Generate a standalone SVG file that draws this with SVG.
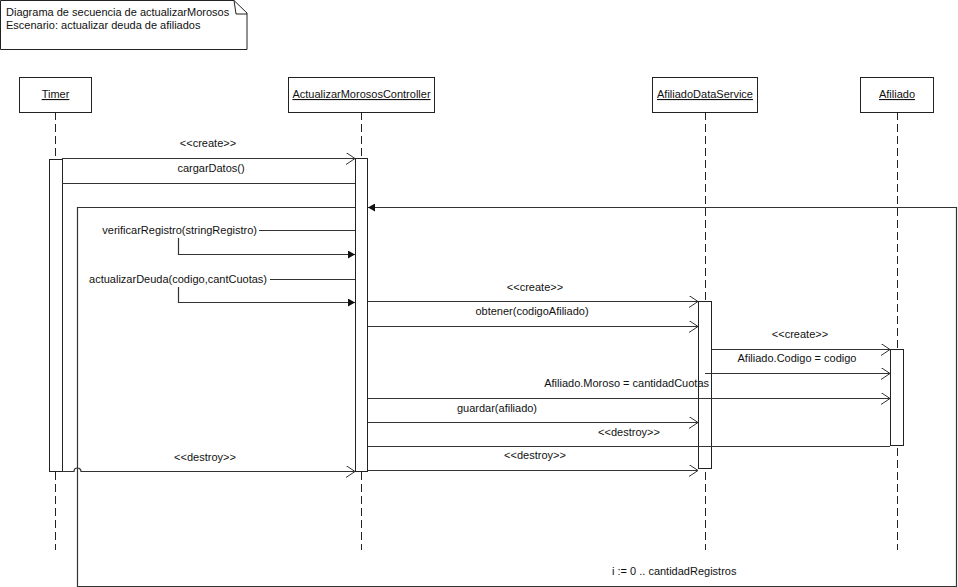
<svg xmlns="http://www.w3.org/2000/svg" width="958" height="587" viewBox="0 0 958 587">
<style>
text{font-family:"Liberation Sans",Arial,sans-serif;font-size:11px;fill:#111}
.mid{text-anchor:middle}
.end{text-anchor:end}
.head rect{fill:#fff;stroke:#222;stroke-width:1}
.life{stroke:#222;stroke-width:1;stroke-dasharray:8,4;fill:none}
.act{fill:#fff;stroke:#222;stroke-width:1}
.msg{stroke:#333;stroke-width:1.2;fill:none}
.open{stroke:#333;stroke-width:1;fill:none}
.fill{fill:#111;stroke:none}
</style>
<defs>
<marker id="openArrow" markerWidth="10" markerHeight="12" refX="9" refY="6" orient="auto" markerUnits="userSpaceOnUse">
<path d="M0,0 L9,6 L0,12" class="open"/>
</marker>
<marker id="fillArrow" markerWidth="8" markerHeight="8" refX="7" refY="4" orient="auto" markerUnits="userSpaceOnUse">
<path d="M0,0 L7,4 L0,8 Z" class="fill"/>
</marker>
</defs>
<rect width="958" height="587" fill="#fff"/>

<g id="note">
<path d="M0.5,0.5 H234 L247,13 V49.5 H0.5 Z" fill="#fff" stroke="#222"/>
<path d="M234,0.5 L236,14 H247" fill="none" stroke="#222"/>
<text x="6" y="16">Diagrama de secuencia de actualizarMorosos</text>
<text x="6" y="29">Escenario: actualizar deuda de afiliados</text>
</g>

<g id="lifelines">
<line class="life" x1="55.5" y1="112" x2="55.5" y2="550"/>
<line class="life" x1="361.5" y1="112" x2="361.5" y2="550"/>
<line class="life" x1="705.5" y1="112" x2="705.5" y2="550"/>
<line class="life" x1="897.5" y1="112" x2="897.5" y2="550"/>
</g>

<g id="timer" class="head">
<rect x="19.5" y="77.5" width="72" height="35"/>
<text x="55.5" y="98" class="mid" text-decoration="underline">Timer</text>
</g>
<g id="controller" class="head">
<rect x="288.5" y="77.5" width="146" height="35"/>
<text x="361.5" y="98" class="mid" text-decoration="underline">ActualizarMorososController</text>
</g>
<g id="dataservice" class="head">
<rect x="652.5" y="77.5" width="105" height="35"/>
<text x="705" y="98" class="mid" text-decoration="underline">AfiliadoDataService</text>
</g>
<g id="afiliado" class="head">
<rect x="860.5" y="77.5" width="73" height="35"/>
<text x="897" y="98" class="mid" text-decoration="underline">Afiliado</text>
</g>

<g id="activations">
<rect class="act" x="49.5" y="159.5" width="13" height="312"/>
<rect class="act" x="355.5" y="158.5" width="12" height="313"/>
<rect class="act" x="698.5" y="301.5" width="13" height="167"/>
<rect class="act" x="890.5" y="349.5" width="13" height="96"/>
</g>

<g id="connectors">
<!-- loop -->
<path class="msg" d="M355,207.5 H77.5 V586.5 H956.5 V207.5 H368" marker-end="url(#fillArrow)"/>
<text x="612" y="575">i := 0 .. cantidadRegistros</text>

<!-- create controller -->
<line class="msg" x1="62" y1="158.5" x2="355" y2="158.5" marker-end="url(#openArrow)"/>
<text x="208" y="147" class="mid">&lt;&lt;create&gt;&gt;</text>

<!-- cargarDatos -->
<line class="msg" x1="62" y1="183.5" x2="355" y2="183.5"/>
<text x="211" y="172" class="mid">cargarDatos()</text>

<!-- verificarRegistro -->
<line class="msg" x1="259" y1="230.5" x2="355" y2="230.5"/>
<text x="257" y="234" class="end">verificarRegistro(stringRegistro)</text>
<path class="msg" d="M178.5,238 V254.5 H355" marker-end="url(#fillArrow)"/>

<!-- actualizarDeuda -->
<line class="msg" x1="270" y1="279.5" x2="355" y2="279.5"/>
<text x="267" y="283" class="end">actualizarDeuda(codigo,cantCuotas)</text>
<path class="msg" d="M178.5,287 V302.5 H355" marker-end="url(#fillArrow)"/>

<!-- create dataservice -->
<line class="msg" x1="368" y1="301.5" x2="698" y2="301.5" marker-end="url(#openArrow)"/>
<text x="535" y="291" class="mid">&lt;&lt;create&gt;&gt;</text>

<!-- obtener -->
<line class="msg" x1="368" y1="326.5" x2="698" y2="326.5" marker-end="url(#openArrow)"/>
<text x="532" y="315" class="mid">obtener(codigoAfiliado)</text>

<!-- create afiliado -->
<line class="msg" x1="712" y1="349.5" x2="890" y2="349.5" marker-end="url(#openArrow)"/>
<text x="800" y="338" class="mid">&lt;&lt;create&gt;&gt;</text>

<!-- Afiliado.Codigo -->
<line class="msg" x1="705" y1="373.5" x2="890" y2="373.5" marker-end="url(#openArrow)"/>
<text x="797" y="362" class="mid">Afiliado.Codigo = codigo</text>

<!-- Afiliado.Moroso -->
<line class="msg" x1="368" y1="398.5" x2="890" y2="398.5" marker-end="url(#openArrow)"/>
<text x="709" y="387" class="end">Afiliado.Moroso = cantidadCuotas</text>

<!-- guardar -->
<line class="msg" x1="368" y1="422.5" x2="698" y2="422.5" marker-end="url(#openArrow)"/>
<text x="497" y="412" class="mid">guardar(afiliado)</text>

<!-- destroy afiliado -->
<line class="msg" x1="368" y1="446.5" x2="890" y2="446.5"/>
<text x="629" y="436" class="mid">&lt;&lt;destroy&gt;&gt;</text>

<!-- destroy dataservice -->
<line class="msg" x1="368" y1="470.5" x2="698" y2="470.5" marker-end="url(#openArrow)"/>
<text x="535" y="459" class="mid">&lt;&lt;destroy&gt;&gt;</text>

<!-- destroy controller -->
<path class="msg" d="M62,471.5 H74 A3.5,3.5 0 0 1 81,471.5 H355" marker-end="url(#openArrow)"/>
<text x="205" y="461" class="mid">&lt;&lt;destroy&gt;&gt;</text>
</g>
</svg>
